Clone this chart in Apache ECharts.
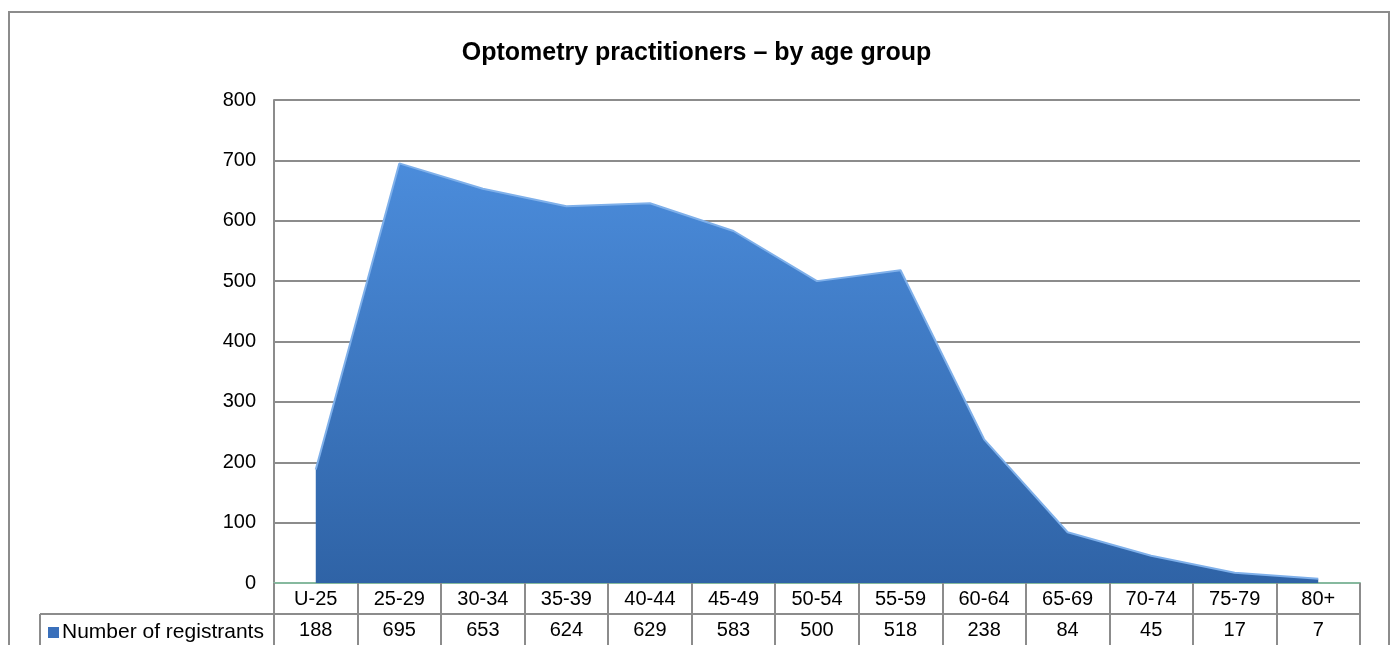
<!DOCTYPE html>
<html>
<head>
<meta charset="utf-8">
<script src="https://cdn.jsdelivr.net/npm/echarts@6/dist/echarts.min.js"></script>
<style>
html,body{margin:0;padding:0;background:#fff;}
#chart{width:1393px;height:645px;}
</style>
</head>
<body>
<div id="chart"></div>
<script>
const categories = ['U-25','25-29','30-34','35-39','40-44','45-49','50-54','55-59','60-64','65-69','70-74','75-79','80+'];
const registrants = [188,695,653,624,629,583,500,518,238,84,45,17,7];
const yTicks = {min:0, max:800, interval:100};
const seriesName = 'Number of registrants';
const titleText = 'Optometry practitioners \u2013 by age group';

const FONT = 'Liberation Sans, Arial, sans-serif';
const gridLeft = 274, gridRight = 1393 - 1360, gridTop = 100, gridBottom = 645 - 583;
const rowSplitY = 614, tableLeft = 40, tableRight = 1360;

const chart = echarts.init(document.getElementById('chart'), null, {renderer:'canvas'});
chart.setOption({
  backgroundColor:'#fff',
  animation:false,
  title:{text:titleText,left:'center',top:36,
    textStyle:{fontFamily:FONT,fontSize:25,fontWeight:'bold',color:'#000'}},
  legend:{data:[{name:seriesName,icon:'rect'}],left:43,top:617,itemWidth:11,itemHeight:11,itemGap:4,
    selectedMode:false,
    textStyle:{fontFamily:FONT,fontSize:21,color:'#000',padding:[0,0,0,-2]}},
  grid:{left:gridLeft,right:gridRight,top:gridTop,bottom:gridBottom,containLabel:false,outerBoundsMode:'none'},
  xAxis:{type:'category',data:categories,boundaryGap:true,
    axisLine:{lineStyle:{color:'#86b99e',width:2}},
    axisTick:{show:true,interval:0,length:62,lineStyle:{color:'#8c8c8c',width:2}},
    axisLabel:{interval:0,margin:1,
      formatter:function(v,i){return '{a|'+v+'}\n{b|'+registrants[i]+'}';},
      rich:{a:{fontFamily:FONT,fontSize:20,color:'#000',height:31,lineHeight:31,align:'center'},
            b:{fontFamily:FONT,fontSize:20,color:'#000',height:31,lineHeight:31,align:'center'}}}},
  yAxis:{type:'value',min:yTicks.min,max:yTicks.max,interval:yTicks.interval,
    axisLine:{show:true,lineStyle:{color:'#8c8c8c',width:2}},
    axisTick:{show:false},
    axisLabel:{fontFamily:FONT,fontSize:20,color:'#000',margin:18},
    splitLine:{lineStyle:{color:'#8c8c8c',width:2}}},
  series:[{name:seriesName,type:'line',data:registrants,symbol:'none',
    lineStyle:{color:'#7fb0ea',width:2},
    itemStyle:{color:'#3a70bb'},
    areaStyle:{opacity:1,color:new echarts.graphic.LinearGradient(0,0,0,1,[
      {offset:0,color:'#4b8cdb'},{offset:1,color:'#2f63a6'}])}}],
  graphic:[
    {type:'rect',shape:{x:9,y:12,width:1380,height:640},style:{fill:'none',stroke:'#8c8c8c',lineWidth:2},silent:true,z:-1},
    {type:'line',shape:{x1:tableLeft,y1:rowSplitY,x2:tableRight,y2:rowSplitY},style:{stroke:'#8c8c8c',lineWidth:2},silent:true},
    {type:'line',shape:{x1:tableLeft,y1:rowSplitY,x2:tableLeft,y2:650},style:{stroke:'#8c8c8c',lineWidth:2},silent:true}
  ]
});
</script>
</body>
</html>
